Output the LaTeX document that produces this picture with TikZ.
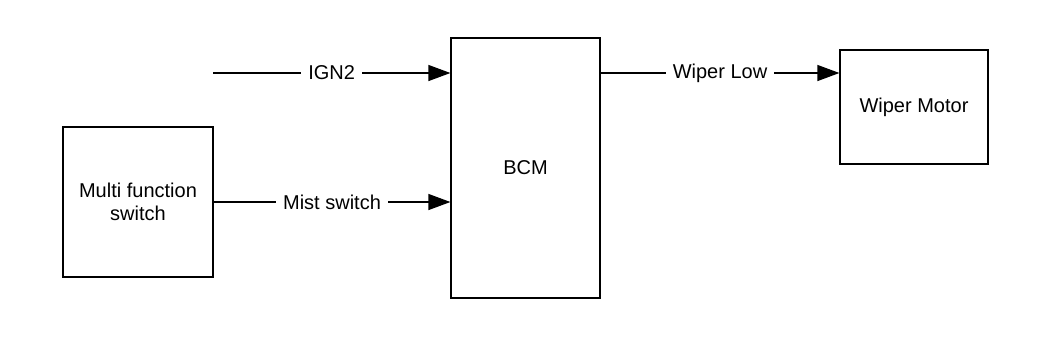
\documentclass[tikz,border=0pt]{standalone}
\usepackage{fontspec}
\setmainfont{Liberation Sans}
\usepackage{tikz}
\usetikzlibrary{arrows.meta,positioning}
\tikzset{
    blockbox/.style={
        draw,
        line width=0.6pt,
        align=center,
        font=\fontsize{10}{11.5}\selectfont
    },
    % signal line with a label cut into it
    sigarrow/.style={
        line width=0.6pt,
        -{Triangle[length=11pt, width=8pt]}
    },
    siglabel/.style={
        fill=white,
        inner sep=3.5pt,
        font=\fontsize{10}{12}\selectfont
    }
}
\begin{document}
\begin{tikzpicture}[x=0.5pt,y=-0.5pt]
    \useasboundingbox (0,0) rectangle (1050,339);
    \node[blockbox,minimum width=75pt,minimum height=75pt] (mfs) at (138,202) {Multi function\\switch};
    \node[blockbox,minimum width=74.5pt,minimum height=130pt] (bcm) at (525.5,168) {BCM};
    \node[blockbox,minimum width=74pt,minimum height=57pt] (motor) at (914,107) {Wiper Motor};
    \coordinate (ign) at (213,73);

    \draw[sigarrow] (ign) -- node[siglabel] {IGN2} (ign -| bcm.west);
    \draw[sigarrow] (mfs.east) -- node[siglabel] {Mist switch} (mfs.east -| bcm.west);
    \draw[sigarrow] (ign -| bcm.east) -- node[siglabel] {Wiper Low} (ign -| motor.west);
\end{tikzpicture}
\end{document}
